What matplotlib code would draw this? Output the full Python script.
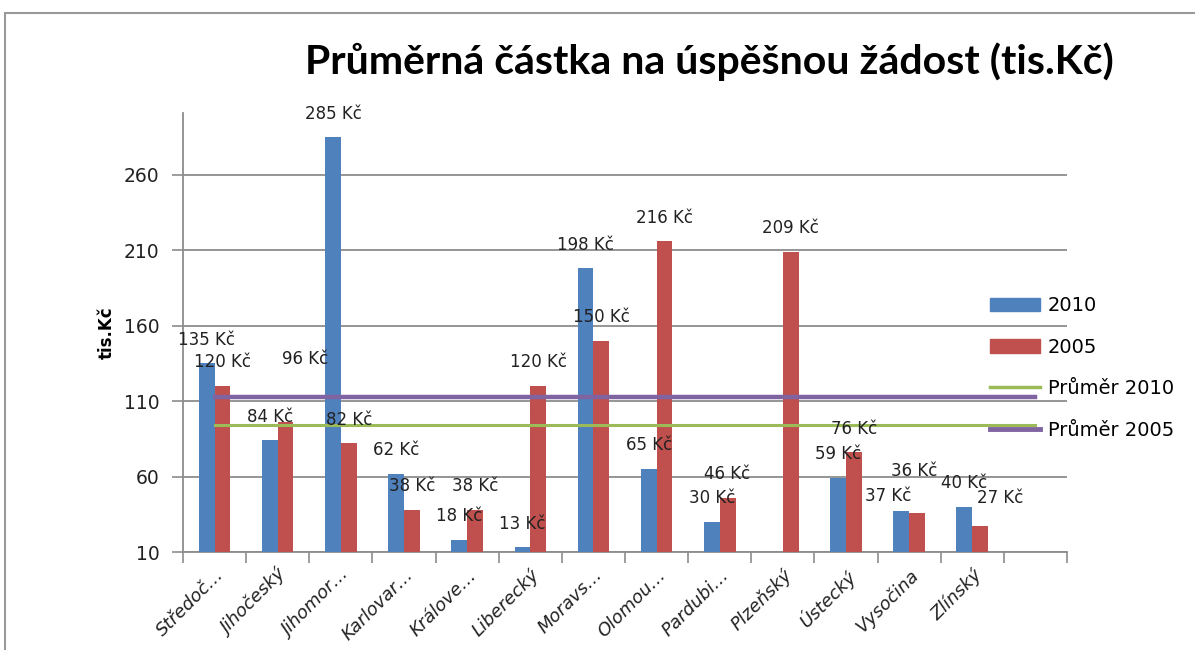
"""Průměrná částka na úspěšnou žádost (tis.Kč) — 2010 vs 2005 po krajích."""

import matplotlib

matplotlib.use("Agg")
import matplotlib.pyplot as plt  # noqa: E402
import numpy as np  # noqa: E402
from matplotlib.lines import Line2D  # noqa: E402
from matplotlib.patches import Patch, Rectangle  # noqa: E402

regions = ["Středoč…", "Jihočeský", "Jihomor…", "Karlovar…", "Králove…", "Liberecký",
           "Moravs…", "Olomou…", "Pardubi…", "Plzeňský", "Ústecký", "Vysočina", "Zlínský"]
val_2010 = [135, 84, 285, 62, 18, 13, 198, 65, 30, np.nan, 59, 37, 40]
val_2005 = [120, 96, 82, 38, 38, 120, 150, 216, 46, 209, 76, 36, 27]
avg_2010 = 94
avg_2005 = 113
yticks = [10, 60, 110, 160, 210, 260]

BLUE, RED, GREEN, PURPLE = "#4F81BD", "#C0504D", "#9BBB59", "#8064A2"
GRID = "#8c8c8c"

plt.rcParams["font.family"] = ["DejaVu Sans"]

fig = plt.figure(figsize=(11.95, 6.5), dpi=100)
ax = fig.add_axes([183 / 1195, 1 - 552 / 650, 884 / 1195, 439 / 650])

n = len(regions)
x = np.arange(n)
w = 0.25
b1 = ax.bar(x - w / 2, val_2010, w, color=BLUE, zorder=3)
b2 = ax.bar(x + w / 2, val_2005, w, color=RED, zorder=3)

# average lines run over one extra (empty) category slot
xl = np.arange(n + 1)
ax.plot(xl, [avg_2010] * len(xl), color=GREEN, lw=2.2, zorder=4)
ax.plot(xl, [avg_2005] * len(xl), color=PURPLE, lw=3.2, zorder=4)

# data labels, a few nudged like in the original (pixels)
nudge = {("05", 1): (20, 40), ("10", 11): (-13, -8), ("05", 11): (-3, 18), ("05", 12): (20, 5)}
for key, bars, vals in (("10", b1, val_2010), ("05", b2, val_2005)):
    for i, (bar, v) in enumerate(zip(bars, vals)):
        if np.isnan(v):
            continue
        dx, dy = nudge.get((key, i), (0, 0))
        ax.annotate(f"{v:.0f} Kč", (bar.get_x() + bar.get_width() / 2, v),
                    xytext=(dx * 0.72, 17 + dy * 0.72), textcoords="offset points",
                    ha="center", va="center", fontsize=12, color="#222222", zorder=5)

ax.set_xlim(-0.5, n + 0.5)
ax.set_ylim(10, 301)
ax.set_yticks(yticks)
ax.grid(axis="y", color=GRID, lw=1.3, zorder=0)
ax.set_axisbelow(True)
ax.tick_params(axis="y", length=8, width=1.2, color=GRID, pad=9, labelsize=13.5,
               labelcolor="#222222")

ax.set_xticks(x)
ax.set_xticklabels(regions, rotation=45, ha="right", va="top", rotation_mode="anchor",
                   fontsize=13, style="italic", color="#222222")
ax.set_xticks(np.arange(-0.5, n + 1), minor=True)
ax.tick_params(axis="x", which="major", length=0, pad=10)
ax.tick_params(axis="x", which="minor", length=8, width=1.2, color=GRID)

for s in ("top", "right"):
    ax.spines[s].set_visible(False)
for s in ("left", "bottom"):
    ax.spines[s].set_color(GRID)
    ax.spines[s].set_linewidth(1.3)

ax.set_ylabel("tis.Kč", fontsize=12, fontweight="bold", labelpad=6)

fig.text(709 / 1195, 1 - 62 / 650, "Průměrná částka na úspěšnou žádost (tis.Kč)",
         ha="center", va="center", fontsize=29.5, fontweight="bold", family="Lato")

handles = [Patch(color=BLUE), Patch(color=RED),
           Line2D([], [], color=GREEN, lw=2.5), Line2D([], [], color=PURPLE, lw=3.5)]
fig.legend(handles, ["2010", "2005", "Průměr 2010", "Průměr 2005"],
           loc="center left", bbox_to_anchor=(972 / 1195, 1 - 368 / 650), frameon=False,
           fontsize=14, handlelength=2.6, handleheight=0.7, labelspacing=1.15,
           handletextpad=0.4)

fig.add_artist(Rectangle((5 / 1195, -0.1), 1.2, 1.1 - 13 / 650, transform=fig.transFigure,
                         fill=False, edgecolor="#999999", lw=1.5, clip_on=False))

fig.savefig("out.png", dpi=100)
